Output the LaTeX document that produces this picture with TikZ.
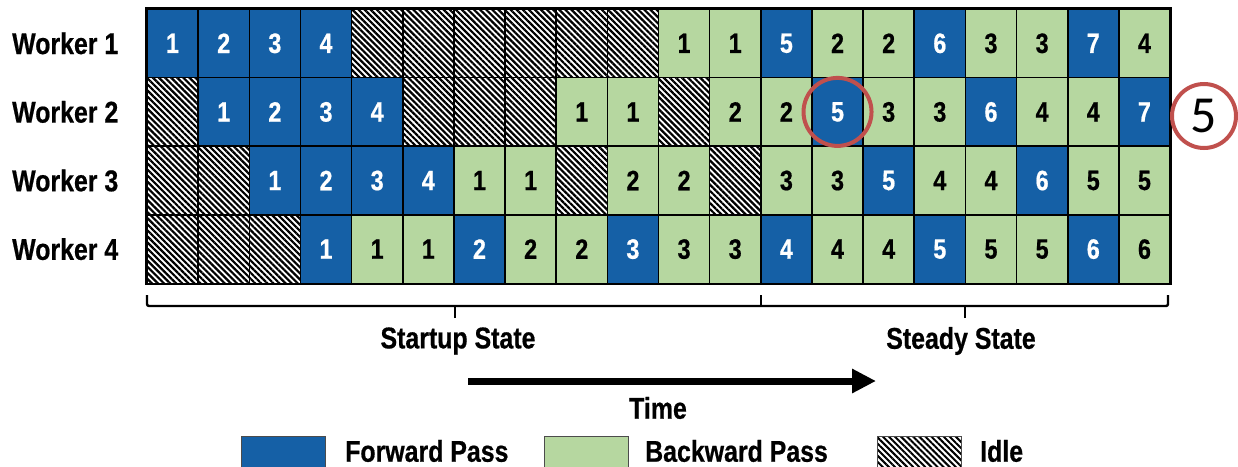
\documentclass[tikz,border=0pt]{standalone}
\usepackage{fontspec}
\setmainfont{Liberation Sans}[FakeStretch=0.83, BoldFeatures={FakeBold=0.6}]
\newfontfamily\circfont{Carlito}
\usetikzlibrary{patterns.meta,arrows.meta}
\definecolor{fwd}{RGB}{21,96,166}
\definecolor{bwd}{RGB}{182,215,160}
\definecolor{ring}{RGB}{192,80,77}
\tikzset{
  cellbox/.style={draw=black, line width=1.6pt, minimum width=51.15pt, minimum height=68.6pt, inner sep=0pt, font=\fontsize{28}{30}\selectfont\bfseries},
  fwc/.style={cellbox, fill=fwd, text=white},
  bwc/.style={cellbox, fill=bwd, text=black},
  idlc/.style={cellbox, fill=white, pattern={Lines[angle=-45,distance=4.3pt,line width=2.2pt]}},
  lbl/.style={font=\fontsize{30}{32}\selectfont\bfseries, inner sep=0pt},
  legbox/.style={draw=black!70, line width=1pt, minimum width=84pt, minimum height=34pt, inner sep=0pt},
  ringnode/.style={circle, draw=ring, line width=4pt, inner sep=0pt},
  bracepart/.style={line width=2.4pt},
}
\newcommand\drawrow[2]{%
  \node[lbl, anchor=west] (w#1) at (12,{9+(#1-0.5)*68.6}) {Worker #1};
  \foreach \t/\n [count=\c from 0] in {#2} {
    \node[\t] (c-#1-\c) at ({147+(\c+0.5)*51.15},{9+(#1-0.5)*68.6}) {\n};
  }}
\begin{document}
\begin{tikzpicture}[x=1pt,y=-1pt]
\useasboundingbox (0,0) rectangle (1238,466);
\drawrow{1}{fwc/1,fwc/2,fwc/3,fwc/4,idlc/{},idlc/{},idlc/{},idlc/{},idlc/{},idlc/{},bwc/1,bwc/1,fwc/5,bwc/2,bwc/2,fwc/6,bwc/3,bwc/3,fwc/7,bwc/4}
\drawrow{2}{idlc/{},fwc/1,fwc/2,fwc/3,fwc/4,idlc/{},idlc/{},idlc/{},bwc/1,bwc/1,idlc/{},bwc/2,bwc/2,fwc/5,bwc/3,bwc/3,fwc/6,bwc/4,bwc/4,fwc/7}
\drawrow{3}{idlc/{},idlc/{},fwc/1,fwc/2,fwc/3,fwc/4,bwc/1,bwc/1,idlc/{},bwc/2,bwc/2,idlc/{},bwc/3,bwc/3,fwc/5,bwc/4,bwc/4,fwc/6,bwc/5,bwc/5}
\drawrow{4}{idlc/{},idlc/{},idlc/{},fwc/1,bwc/1,bwc/1,fwc/2,bwc/2,bwc/2,fwc/3,bwc/3,bwc/3,fwc/4,bwc/4,bwc/4,fwc/5,bwc/5,bwc/5,fwc/6,bwc/6}
\draw[line width=1.6pt] (c-1-0.north west) rectangle (c-4-19.south east);
% highlight ring
\node[ringnode, minimum size=68pt] (hl) at (c-2-13) {};
\node[ringnode, minimum size=64pt, font=\circfont\fontsize{52}{54}\selectfont] (tag) at (1204,116) {5};
% brace
\coordinate (bl) at (147,295);
\coordinate (br) at (1168,295);
\coordinate (bm) at (761,295);
\coordinate (t1) at (455,318);
\coordinate (t2) at (965,318);
\draw[bracepart, rounded corners=2pt] (bl) -- (bl|-0,306) -- (br|-0,306) -- (br);
\draw[bracepart] (bm) -- (bm|-0,306);
\draw[bracepart] (t1) -- (t1|-0,306);
\draw[bracepart] (t2) -- (t2|-0,306);
\node[lbl] (st1) at (458,341) {Startup State};
\node[lbl] (st2) at (961,341) {Steady State};
% time arrow
\coordinate (ta) at (468,381);
\coordinate (tb) at (876,381);
\draw[line width=7pt, -{Triangle[length=24pt,width=23pt]}] (ta) -- (tb);
\node[lbl] (time) at (658,408) {Time};
% legend
\node[legbox, fill=fwd] (lf) at (283,453) {};
\node[lbl, anchor=west] (lft) at (345,451) {Forward Pass};
\node[legbox, fill=bwd] (lb) at (586,453) {};
\node[lbl, anchor=west] (lbt) at (645,451) {Backward Pass};
\node[legbox, fill=white, pattern={Lines[angle=-45,distance=4.3pt,line width=2pt]}] (li) at (919.5,453) {};
\node[lbl, anchor=west] (lit) at (980,451) {Idle};
\end{tikzpicture}
\end{document}
